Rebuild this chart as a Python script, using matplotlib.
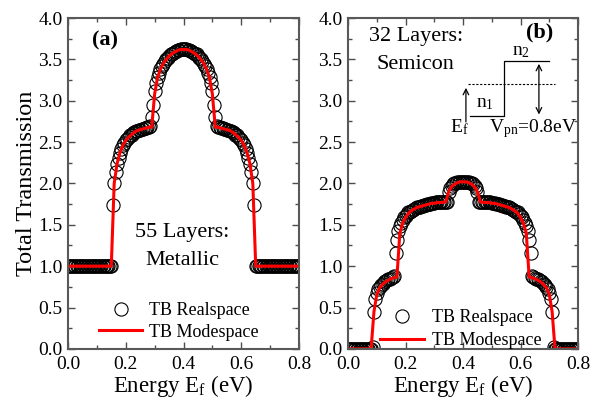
import numpy as np
import matplotlib
matplotlib.use('Agg')
import matplotlib.pyplot as plt
from matplotlib.ticker import MultipleLocator

plt.rcParams['font.family'] = ['Liberation Serif', 'DejaVu Serif']
plt.rcParams['mathtext.fontset'] = 'custom'
plt.rcParams['mathtext.rm'] = 'Liberation Serif'
plt.rcParams['mathtext.it'] = 'Liberation Serif:italic'
plt.rcParams['mathtext.bf'] = 'Liberation Serif:bold'

# (a) 55 layers, metallic -- realspace sampled every 5 meV, modespace every 10 meV
real_a = ([1.0] * 31 +
          [1.74, 2.00, 2.14, 2.24, 2.31, 2.37, 2.42, 2.46, 2.49, 2.52,
           2.54, 2.56, 2.58, 2.59, 2.61, 2.62, 2.63, 2.64, 2.65, 2.65,
           2.66, 2.66, 2.67, 2.67, 2.68, 2.68, 2.69, 2.80, 2.95, 3.12,
           3.22, 3.29, 3.34, 3.38, 3.42, 3.45, 3.48, 3.50, 3.52, 3.54,
           3.56, 3.57, 3.58, 3.59, 3.60, 3.61, 3.61, 3.62, 3.62, 3.62,
           3.62, 3.62, 3.61, 3.61, 3.60, 3.59, 3.58, 3.57, 3.56, 3.54,
           3.52, 3.50, 3.48, 3.45, 3.42, 3.38, 3.34, 3.29, 3.22, 3.12,
           2.95, 2.80, 2.69, 2.68, 2.68, 2.67, 2.67, 2.66, 2.66, 2.65,
           2.65, 2.64, 2.63, 2.62, 2.61, 2.59, 2.58, 2.56, 2.54, 2.52,
           2.49, 2.46, 2.42, 2.37, 2.31, 2.24, 2.14, 2.00, 1.74] +
          [1.0] * 31)
mode_a = ([1.0] * 16 +
          [2.00, 2.24, 2.37, 2.46, 2.52, 2.56, 2.59, 2.62, 2.64, 2.65,
           2.66, 2.67, 2.68, 2.68, 3.08, 3.28, 3.38, 3.45, 3.50, 3.54,
           3.57, 3.59, 3.61, 3.62, 3.62,
           3.62, 3.61, 3.59, 3.57, 3.54, 3.50, 3.45, 3.38, 3.28, 3.08,
           2.68, 2.68, 2.67, 2.66, 2.65, 2.64, 2.62, 2.59, 2.56, 2.52,
           2.46, 2.37, 2.24, 2.00] +
          [1.0] * 16)

# (b) 32 layers, semiconducting
real_b = ([0.0] * 17 +
          [0.02, 0.45, 0.60, 0.67, 0.72, 0.75, 0.77, 0.79, 0.81, 0.82,
           0.83, 0.84, 0.85, 0.86, 0.87, 0.88, 1.16, 1.32, 1.42, 1.48,
           1.52, 1.56, 1.59, 1.61, 1.63, 1.65, 1.66, 1.67, 1.68, 1.69,
           1.70, 1.71, 1.72, 1.72, 1.73, 1.73, 1.74, 1.74, 1.75, 1.75,
           1.75, 1.76, 1.76, 1.76, 1.77, 1.77, 1.77, 1.77, 1.77, 1.78,
           1.78, 1.78, 1.78, 1.90, 1.94, 1.97, 1.99, 2.00, 2.01, 2.02,
           2.02, 2.02, 2.02, 2.02,
           2.02, 2.02, 2.02, 2.02, 2.01, 2.00, 1.99, 1.97, 1.94, 1.90,
           1.78, 1.78, 1.78, 1.78, 1.77, 1.77, 1.77, 1.77, 1.77, 1.76,
           1.76, 1.76, 1.75, 1.75, 1.75, 1.74, 1.74, 1.73, 1.73, 1.72,
           1.72, 1.71, 1.70, 1.69, 1.68, 1.67, 1.66, 1.65, 1.63, 1.61,
           1.59, 1.56, 1.52, 1.48, 1.42, 1.32, 1.16, 0.88, 0.87, 0.86,
           0.85, 0.84, 0.83, 0.82, 0.81, 0.79, 0.77, 0.75, 0.72, 0.67,
           0.60, 0.45, 0.02] +
          [0.0] * 17)
mode_b = ([0.0] * 9 +
          [0.45, 0.66, 0.74, 0.78, 0.81, 0.83, 0.85, 0.86, 0.87, 1.40,
           1.52, 1.59, 1.64, 1.67, 1.69, 1.71, 1.72, 1.73, 1.74, 1.75,
           1.76, 1.76, 1.77, 1.77, 1.77, 1.78, 1.90, 1.96, 1.99, 2.01,
           2.02, 2.02,
           2.02, 2.01, 1.99, 1.96, 1.90, 1.78, 1.77, 1.77, 1.77, 1.76,
           1.76, 1.75, 1.74, 1.73, 1.72, 1.71, 1.69, 1.67, 1.64, 1.59,
           1.52, 1.40, 0.87, 0.86, 0.85, 0.83, 0.81, 0.78, 0.74, 0.66,
           0.45] +
          [0.0] * 9)

e_real_a = np.arange(len(real_a)) * 0.005
e_mode_a = np.arange(len(mode_a)) * 0.01
e_real_b = np.arange(len(real_b)) * 0.005
e_mode_b = np.arange(len(mode_b)) * 0.01

fig = plt.figure(figsize=(5.91, 4.01), dpi=100)
ax1 = fig.add_axes([0.115, 0.130, 0.391, 0.825])
ax2 = fig.add_axes([0.589, 0.130, 0.389, 0.825])


def style_axes(ax):
    ax.set_xlim(0, 0.8)
    ax.set_ylim(0, 4.0)
    ax.xaxis.set_major_locator(MultipleLocator(0.2))
    ax.xaxis.set_minor_locator(MultipleLocator(0.1))
    ax.yaxis.set_major_locator(MultipleLocator(0.5))
    ax.yaxis.set_minor_locator(MultipleLocator(0.25))
    ax.xaxis.set_major_formatter(matplotlib.ticker.FormatStrFormatter('%.1f'))
    ax.yaxis.set_major_formatter(matplotlib.ticker.FormatStrFormatter('%.1f'))
    ax.tick_params(which='both', direction='in', top=True, right=True,
                   labelsize=14, color='0.3', width=1.0)
    ax.tick_params(which='major', length=5, pad=4)
    ax.tick_params(axis='x', which='major', pad=5)
    ax.tick_params(which='minor', length=3)
    for s in ax.spines.values():
        s.set_color('0.35')
        s.set_linewidth(1.5)
    ax.set_xlabel(r'Energy E$_\mathrm{f}$ (eV)', fontsize=16.5, labelpad=0)


for ax, er, tr, em, tm in [(ax1, e_real_a, real_a, e_mode_a, mode_a),
                           (ax2, e_real_b, real_b, e_mode_b, mode_b)]:
    ax.plot(er, tr, 'o', ms=9.5, mfc='none', mec='black', mew=0.8,
            label='TB Realspace')
    ax.plot(em, tm, '-', color='red', lw=2.2, label='TB Modespace')
    style_axes(ax)

ax1.set_ylabel('Total Transmission', fontsize=17.5, labelpad=1)

ax1.legend(loc='lower left', bbox_to_anchor=(0.135, 0.025), frameon=False,
           fontsize=13, borderpad=0, borderaxespad=0, handlelength=2.4,
           handletextpad=0.35, labelspacing=0.25, numpoints=1)
ax2.legend(loc='lower left', bbox_to_anchor=(0.14, 0.0), frameon=False,
           fontsize=13, borderpad=0, borderaxespad=0, handlelength=2.4,
           handletextpad=0.45, labelspacing=0.3, numpoints=1)

ax1.text(0.16, 0.933, '(a)', transform=ax1.transAxes, fontsize=16,
         fontweight='bold', ha='center', va='center')
ax1.text(0.395, 1.24, '55 Layers:\nMetallic', fontsize=16, ha='center',
         va='center', multialignment='center', linespacing=1.6)

ax2.text(0.835, 0.955, '(b)', transform=ax2.transAxes, fontsize=16,
         fontweight='bold', ha='center', va='center')
ax2.text(0.235, 3.61, '32 Layers:\nSemicon', fontsize=16, ha='center',
         va='center', multialignment='center', linespacing=1.65)

# band diagram inset
ax2.plot([0.424, 0.543, 0.543, 0.699], [2.816, 2.816, 3.48, 3.48],
         color='black', lw=0.9)
ax2.plot([0.417, 0.720], [3.20, 3.20], color='black', lw=0.8, ls=(0, (2, 1.5)))
ax2.annotate('', xy=(0.410, 3.19), xytext=(0.410, 2.71),
             arrowprops=dict(arrowstyle='->', lw=0.9, color='black'))
ax2.annotate('', xy=(0.664, 3.48), xytext=(0.664, 2.80),
             arrowprops=dict(arrowstyle='<->', lw=0.9, color='black'))
ax2.text(0.477, 2.97, r'n$_1$', fontsize=14, ha='center', va='center')
ax2.text(0.602, 3.60, r'n$_2$', fontsize=14, ha='center', va='center')
ax2.text(0.386, 2.68, r'E$_\mathrm{f}$', fontsize=14, ha='center', va='center')
ax2.text(0.643, 2.66, r'V$_\mathrm{pn}$=0.8eV', fontsize=14, ha='center',
         va='center')

fig.savefig('out.png', dpi=100)
